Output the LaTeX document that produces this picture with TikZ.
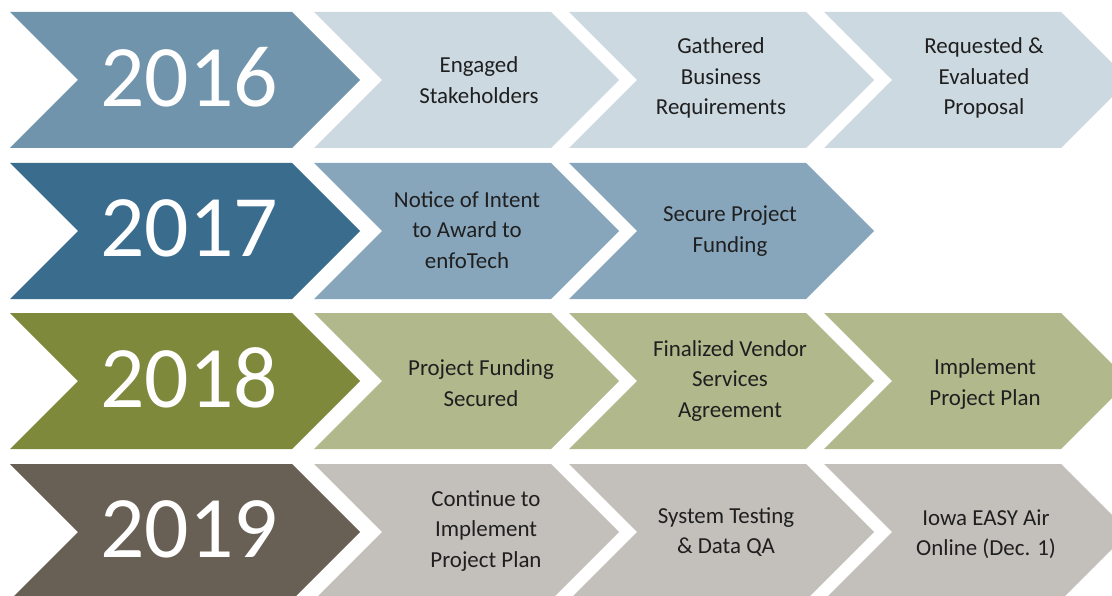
\documentclass[tikz,border=0pt]{standalone}
\usepackage{fontspec}
\setmainfont{Carlito}
\definecolor{c16}{HTML}{7094AC}
\definecolor{c16l}{HTML}{CCD9E1}
\definecolor{c17}{HTML}{3A6C8E}
\definecolor{c17l}{HTML}{87A6BC}
\definecolor{c18}{HTML}{7E893C}
\definecolor{c18l}{HTML}{B0B88C}
\definecolor{c19}{HTML}{686054}
\definecolor{c19l}{HTML}{C3C0BB}
% one chevron: left, top, body width, colour
\newcommand{\chev}[4]{\fill[#4] (#1,#2) -- ++(#3,0) -- ++(68,68) -- ++(-68,68) -- ++(-#3,0) -- ++(68,-68) -- cycle;}
\begin{document}
\begin{tikzpicture}[x=1bp,y=-1bp]
	\tikzstyle{every node}=[align=center, inner sep=0pt, text=black!88, font=\fontsize{23}{30.5}\selectfont]
	\tikzstyle{year}=[text=white, font=\fontsize{88}{88}\selectfont]
	\clip (0,0) rectangle (1112,596);
	% year chevrons
	\foreach \yr/\top/\col in {2016/12/c16, 2017/163/c17, 2018/313/c18, 2019/464/c19} {
		\chev{10}{\top}{282}{\col}
		\node[year] (yr\yr) at (189,\top+65) {\yr};
	}
	% step chevrons
	\foreach \top/\col/\n in {12/c16l/3, 163/c17l/2, 313/c18l/3, 464/c19l/3}
		\foreach \k in {1,...,\n} {
			\pgfmathsetmacro{\lx}{314+255*(\k-1)}
			\chev{\lx}{\top}{237}{\col}
		}
	\node (s16a) at (479,80) {Engaged\\Stakeholders};
	\node (s16b) at (721,78) {Gathered\\Business\\Requirements};
	\node (s16c) at (984,78) {Requested \&\\Evaluated\\Proposal};
	\node (s17a) at (467,230) {Notice of Intent\\to Award to\\enfoTech};
	\node (s17b) at (730,231) {Secure Project\\Funding};
	\node (s18a) at (481,383) {Project Funding\\Secured};
	\node (s18b) at (730,381) {Finalized Vendor\\Services\\Agreement};
	\node (s18c) at (985,384) {Implement\\Project Plan};
	\node (s19a) at (486,531) {Continue to\\Implement\\Project Plan};
	\node (s19b) at (726,532) {System Testing\\\& Data QA};
	\node (s19c) at (986,534) {Iowa EASY Air\\Online (Dec. 1)};
\end{tikzpicture}
\end{document}
